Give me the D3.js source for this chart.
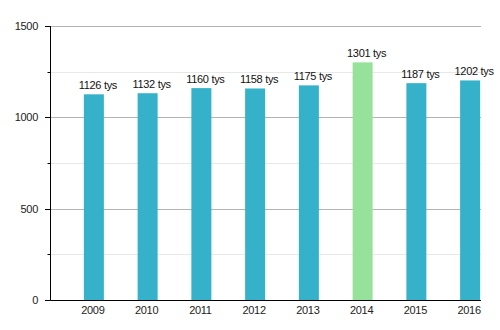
<!DOCTYPE html>
<html><head><meta charset="utf-8">
<script src="https://cdn.jsdelivr.net/npm/d3@7"></script>
<style>body{margin:0;background:#fff}svg{display:block}text{font-family:"Liberation Sans",Arial,sans-serif}</style>
</head><body><svg id="c" width="500" height="330"></svg>
<script>
const years = ["2009","2010","2011","2012","2013","2014","2015","2016"];
const values = [1126,1132,1160,1158,1175,1301,1187,1202];
const labels = ["1126 tys","1132 tys","1160 tys","1158 tys","1175 tys","1301 tys","1187 tys","1202 tys"];
const highlight = "2014";
const majorTicks = [0,500,1000,1500];
const minorTicks = [250,750,1250];

const svg = d3.select("#c");
const y = d3.scaleLinear().domain([0,1500]).range([300,26]);
const x = d3.scaleBand().domain(years).range([67,497]).paddingInner(1-20/53.75).paddingOuter((1-20/53.75)/2);
const xl = 50.5, xr = 481;

svg.append("g").selectAll("line").data(minorTicks).join("line")
  .attr("x1",xl).attr("x2",xr).attr("y1",d=>Math.round(y(d))+0.5).attr("y2",d=>Math.round(y(d))+0.5)
  .attr("stroke","#e8e8e8");
svg.append("g").selectAll("line").data(majorTicks.filter(d=>d>0)).join("line")
  .attr("x1",xl).attr("x2",xr).attr("y1",d=>Math.round(y(d))+0.5).attr("y2",d=>Math.round(y(d))+0.5)
  .attr("stroke","#b4b4b4");

svg.append("g").selectAll("rect").data(years).join("rect")
  .attr("x",d=>x(d)+x.bandwidth()/2-10).attr("width",20)
  .attr("y",(d,i)=>y(values[i])).attr("height",(d,i)=>300-y(values[i]))
  .attr("fill",d=>d===highlight?"#97e29b":"#35b2c9");

svg.append("g").selectAll("text").data(years).join("text")
  .attr("x",d=>x(d)+x.bandwidth()/2+4).attr("y",(d,i)=>y(values[i])-5)
  .attr("text-anchor","middle").attr("font-size",11).attr("fill","#111")
  .attr("letter-spacing","-0.3")
  .text((d,i)=>labels[i]);

// y axis
const ya = svg.append("g");
ya.append("line").attr("x1",xl).attr("x2",xl).attr("y1",y(1500)).attr("y2",300.5).attr("stroke","#000");
ya.selectAll(".mj").data(majorTicks).join("line").attr("class","mj")
  .attr("x1",45).attr("x2",xl).attr("y1",d=>Math.round(y(d))+0.5).attr("y2",d=>Math.round(y(d))+0.5).attr("stroke","#000");
ya.selectAll(".mn").data(minorTicks).join("line").attr("class","mn")
  .attr("x1",47.5).attr("x2",xl).attr("y1",d=>Math.round(y(d))+0.5).attr("y2",d=>Math.round(y(d))+0.5).attr("stroke","#000");
ya.selectAll("text").data(majorTicks).join("text")
  .attr("x",38).attr("y",d=>y(d)+4).attr("text-anchor","end").attr("font-size",11).attr("fill","#222")
  .attr("letter-spacing","-0.3")
  .text(d=>d);

// x axis
const xa = svg.append("g");
xa.append("line").attr("x1",xl).attr("x2",xr).attr("y1",300.5).attr("y2",300.5).attr("stroke","#000");
xa.selectAll("text").data(years).join("text")
  .attr("x",d=>x(d)+x.bandwidth()/2-1).attr("y",314).attr("text-anchor","middle")
  .attr("font-size",11).attr("fill","#222").attr("letter-spacing","-0.3").text(d=>d);
</script></body></html>
